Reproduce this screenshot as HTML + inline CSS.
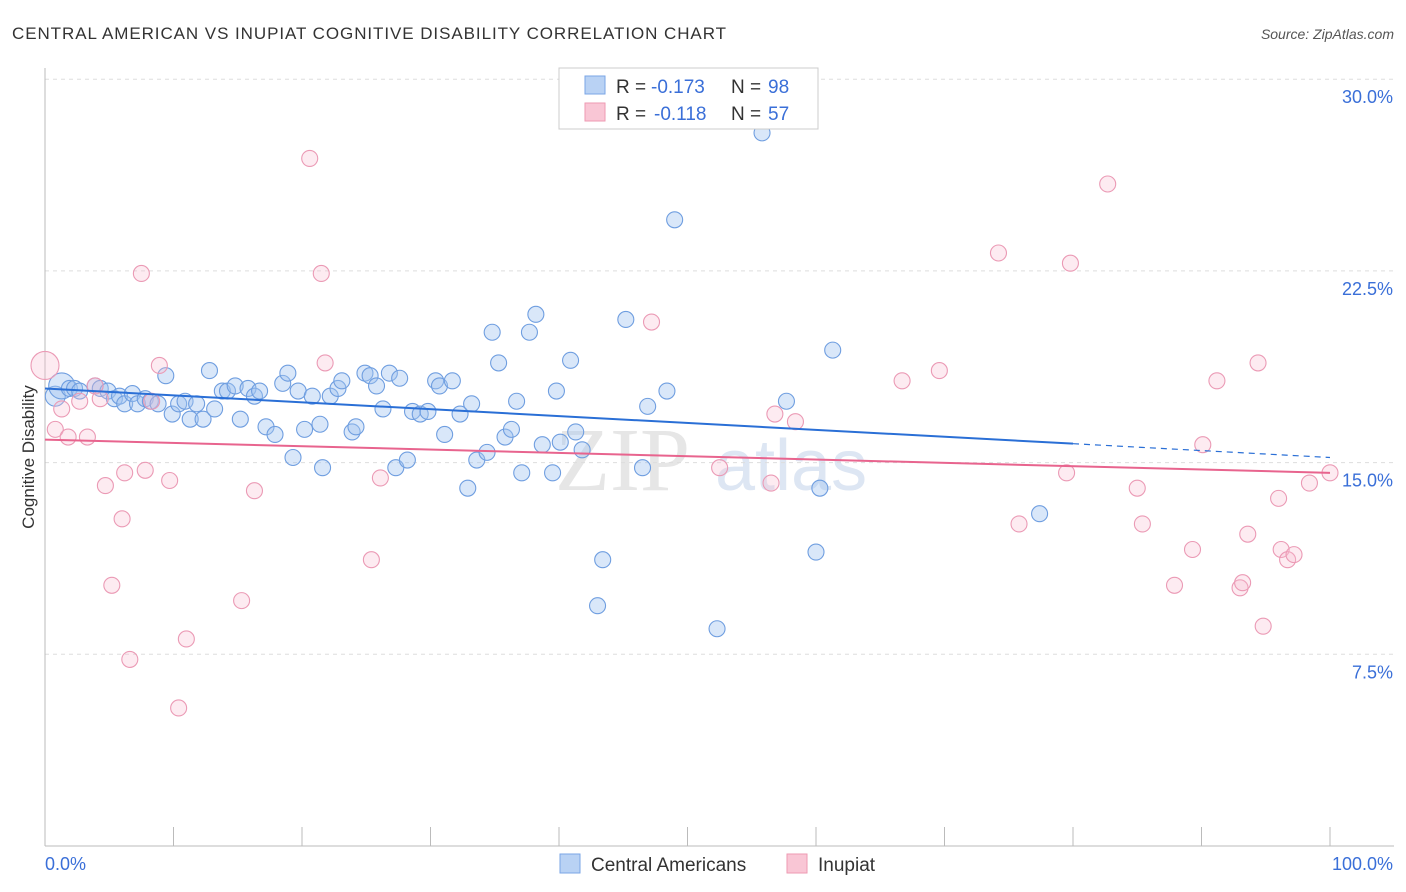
<!DOCTYPE html>
<html><head><meta charset="utf-8"><style>
body{margin:0;background:#fff;font-family:"Liberation Sans",sans-serif;}
#wrap{position:relative;width:1406px;height:892px;overflow:hidden;}
</style></head><body>
<div id="wrap">
<svg id="svg" width="1406" height="892" xmlns="http://www.w3.org/2000/svg">
<text x="12" y="39" font-size="17" fill="#333" textLength="714" lengthAdjust="spacing">CENTRAL AMERICAN VS INUPIAT COGNITIVE DISABILITY CORRELATION CHART</text>
<text x="1394" y="39" font-size="14" fill="#555" font-style="italic" text-anchor="end">Source: ZipAtlas.com</text>
<text x="34" y="457" font-size="17" fill="#333" text-anchor="middle" transform="rotate(-90 34 457)">Cognitive Disability</text>
<text x="690" y="490" font-size="90" fill="#e6e6e6" font-family="Liberation Serif,serif" text-anchor="end">ZIP</text>
<text x="715" y="490" font-size="72" fill="#dde6f3">atlas</text>
<g id="grid"></g><g id="marks"></g><g id="lines"></g>
<g>
<rect x="559" y="68" width="259" height="61" fill="#fff" stroke="#ccc"/>
<rect x="585" y="76" width="20" height="18" fill="#b9d2f4" stroke="#7aa5e6"/>
<rect x="585" y="103" width="20" height="18" fill="#f9c6d5" stroke="#ee9ab2"/>
<text x="616" y="93" font-size="19" fill="#333">R =</text>
<text x="651" y="93" font-size="19" fill="#3a6fd8">-0.173</text>
<text x="731" y="93" font-size="19" fill="#333">N =</text>
<text x="768" y="93" font-size="19" fill="#3a6fd8">98</text>
<text x="616" y="120" font-size="19" fill="#333">R =</text>
<text x="654" y="120" font-size="19" fill="#3a6fd8">-0.118</text>
<text x="731" y="120" font-size="19" fill="#333">N =</text>
<text x="768" y="120" font-size="19" fill="#3a6fd8">57</text>
</g>
<g>
<rect x="560" y="854" width="20" height="19" fill="#b9d2f4" stroke="#7aa5e6"/>
<text x="591" y="871" font-size="19" fill="#333">Central Americans</text>
<rect x="787" y="854" width="20" height="19" fill="#f9c6d5" stroke="#ee9ab2"/>
<text x="818" y="871" font-size="19" fill="#333">Inupiat</text>
</g>
<text x="45" y="870" font-size="18" fill="#3a6fd8">0.0%</text>
<text x="1393" y="870" font-size="18" fill="#3a6fd8" text-anchor="end">100.0%</text>
</svg>
</div>
<script>
const yTicks=[7.5,15,22.5,30];
const yTickLabels=["7.5%","15.0%","22.5%","30.0%"];
const blueX=[0.8,1.3,1.9,2.3,2.7,3.9,4.3,4.9,5.4,5.8,6.2,6.8,7.2,7.8,8.2,8.8,9.4,9.9,10.4,10.9,11.3,11.8,12.3,12.8,13.2,13.8,14.2,14.8,15.2,15.8,16.3,16.7,17.2,17.9,18.5,18.9,19.3,19.7,20.2,20.8,21.4,21.6,22.2,22.8,23.1,23.9,24.2,24.9,25.3,25.8,26.3,26.8,27.3,27.6,28.2,28.6,29.2,29.8,30.4,30.7,31.1,31.7,32.3,32.9,33.2,33.6,34.4,34.8,35.3,35.8,36.3,36.7,37.1,37.7,38.2,38.7,39.5,39.8,40.1,40.9,41.3,41.8,43.0,43.4,45.2,46.5,46.9,48.4,49.0,52.3,55.8,57.7,60.0,60.3,61.3,77.4];
const blueY=[17.6,18.0,17.9,17.9,17.8,18.0,17.9,17.8,17.5,17.6,17.3,17.7,17.3,17.5,17.4,17.3,18.4,16.9,17.3,17.4,16.7,17.3,16.7,18.6,17.1,17.8,17.8,18.0,16.7,17.9,17.6,17.8,16.4,16.1,18.1,18.5,15.2,17.8,16.3,17.6,16.5,14.8,17.6,17.9,18.2,16.2,16.4,18.5,18.4,18.0,17.1,18.5,14.8,18.3,15.1,17.0,16.9,17.0,18.2,18.0,16.1,18.2,16.9,14.0,17.3,15.1,15.4,20.1,18.9,16.0,16.3,17.4,14.6,20.1,20.8,15.7,14.6,17.8,15.8,19.0,16.2,15.5,9.4,11.2,20.6,14.8,17.2,17.8,24.5,8.5,27.9,17.4,11.5,14.0,19.4,13.0];
const pinkX=[0,0.8,1.3,1.8,2.7,3.3,3.9,4.3,4.7,5.2,6.0,6.2,6.6,7.5,7.8,8.3,8.9,9.7,10.4,11.0,15.3,16.3,20.6,21.5,21.8,25.4,26.1,47.2,52.5,56.5,56.8,58.4,66.7,69.6,74.2,75.8,79.5,79.8,82.7,85.0,85.4,87.9,89.3,90.1,91.2,93.0,93.2,93.6,94.4,94.8,96.0,96.2,96.7,97.2,98.4,100];
const pinkY=[18.8,16.3,17.1,16.0,17.4,16.0,18.0,17.5,14.1,10.2,12.8,14.6,7.3,22.4,14.7,17.4,18.8,14.3,5.4,8.1,9.6,13.9,26.9,22.4,18.9,11.2,14.4,20.5,14.8,14.2,16.9,16.6,18.2,18.6,23.2,12.6,14.6,22.8,25.9,14.0,12.6,10.2,11.6,15.7,18.2,10.1,10.3,12.2,18.9,8.6,13.6,11.6,11.2,11.4,14.2,14.6];
const blueTrend=[17.9,15.2];
const pinkTrend=[15.9,14.6];
const NS="http://www.w3.org/2000/svg";
const X=v=>45+v*12.85, Y=v=>846-v*25.56;
function mk(t,a,p){const e=document.createElementNS(NS,t);for(const k in a)e.setAttribute(k,a[k]);p.appendChild(e);return e;}
const grid=document.getElementById('grid'),marks=document.getElementById('marks'),lines=document.getElementById('lines');
yTicks.forEach((t,i)=>{
 const l=mk('line',{x1:45,x2:1394,y1:Y(t),y2:Y(t),stroke:'#ddd','stroke-dasharray':'4,4'},grid);
 
 
 const tx=mk('text',{x:1393,y:Y(t)+24,'font-size':18,fill:'#3a6fd8','text-anchor':'end'},grid);
 tx.textContent=yTickLabels[i];
 
 
});
const ax=mk('line',{x1:45,x2:1394,y1:846,y2:846,stroke:'#bbb'},grid);


const ay=mk('line',{x1:45,x2:45,y1:68,y2:846,stroke:'#bbb'},grid);


for(let i=0;i<=10;i++){const t=mk('line',{x1:X(i*10),x2:X(i*10),y1:827,y2:846,stroke:'#bbb'},grid);
 
 }
blueX.forEach((x,i)=>{const r=i<2?(i==1?13:10):8;
 const c=mk('circle',{cx:X(x),cy:Y(blueY[i]),r:r,fill:'rgba(160,195,240,0.4)',stroke:'#6f9ee0','stroke-width':1.1},marks);
 
 });
pinkX.forEach((x,i)=>{const r=i==0?14:8;
 const c=mk('circle',{cx:X(x),cy:Y(pinkY[i]),r:r,fill:'rgba(248,190,210,0.3)',stroke:'#eb9ab5','stroke-width':1.1},marks);
 
 });
const by=x=>blueTrend[0]+(blueTrend[1]-blueTrend[0])*x/100;
const b1=mk('line',{x1:X(0),y1:Y(by(0)),x2:X(80),y2:Y(by(80)),stroke:'#2a6fd6','stroke-width':2},lines);


const b2=mk('line',{x1:X(80),y1:Y(by(80)),x2:X(100),y2:Y(by(100)),stroke:'#2a6fd6','stroke-width':1.2,'stroke-dasharray':'6,5'},lines);


const p1=mk('line',{x1:X(0),y1:Y(pinkTrend[0]),x2:X(100),y2:Y(pinkTrend[1]),stroke:'#e8648e','stroke-width':2},lines);


</script>
</body></html>
